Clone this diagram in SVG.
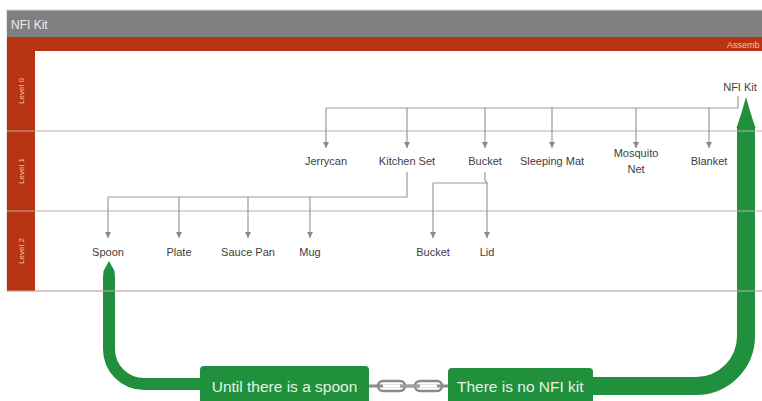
<svg xmlns="http://www.w3.org/2000/svg" width="762" height="401" viewBox="0 0 762 401">
<defs>
<style>
.lbl{font-family:"Liberation Sans",Arial,sans-serif;font-size:11px;fill:#404040;text-anchor:middle}
.lane{font-family:"Liberation Sans",Arial,sans-serif;font-size:8px;fill:#f2c4b4;text-anchor:middle}
.conn{fill:none;stroke:#9a9a9a;stroke-width:1.2}
.laneline{stroke:#c4ac9c;stroke-width:1.2}
.gtxt{font-family:"Liberation Sans",Arial,sans-serif;font-size:15.5px;fill:#e4f2e6}
.link{fill:none;stroke:#8a8a8a;stroke-width:2.5}
</style>
<marker id="ah" viewBox="0 0 6 6" refX="6" refY="3" markerWidth="6" markerHeight="6" markerUnits="userSpaceOnUse" orient="auto">
<path d="M0,0 L6,3 L0,6 Z" fill="#8a8a8a"/>
</marker>
</defs>
<rect width="762" height="401" fill="#ffffff"/>
<g id="frame">
<rect x="7" y="10" width="760" height="281" fill="#ffffff" stroke="#cfcfcf" stroke-width="1"/>
<rect x="7" y="10.5" width="755" height="26.5" fill="#808080"/>
<text x="11" y="29" font-family="'Liberation Sans',Arial,sans-serif" font-size="12" fill="#ececec">NFI Kit</text>
<rect x="7" y="37" width="755" height="14" fill="#b73311"/>
<text x="727" y="48" font-family="'Liberation Sans',Arial,sans-serif" font-size="9" fill="#f2c2b2">Assemb</text>
<rect x="7" y="51" width="28" height="240" fill="#b73311"/>
<text class="lane" transform="translate(23.5,91) rotate(-90)">Level 0</text>
<text class="lane" transform="translate(23.5,171) rotate(-90)">Level 1</text>
<text class="lane" transform="translate(23.5,251) rotate(-90)">Level 2</text>
</g>
<g id="loop" fill="none" stroke="#21903d">
<path d="M109,276 L109,349 A35,35 0 0 0 144,384 L205,384" stroke-width="12"/>
<path d="M746,126 L746,336 A50,50 0 0 1 696,386 L588,386" stroke-width="18"/>
<path d="M109,261 L114.5,271 L115,278 L103,278 L103.5,271 Z" fill="#21903d" stroke="none"/>
<path d="M746,97 Q750,112 755.5,128 L736.5,128 Q742,112 746,97 Z" fill="#21903d" stroke="none"/>
</g>
<g id="lanelines">
<line class="laneline" x1="7" y1="131" x2="762" y2="131"/>
<line class="laneline" x1="7" y1="211" x2="762" y2="211"/>
<line class="laneline" x1="7" y1="291" x2="762" y2="291"/>
</g>
<g id="connectors">
<path class="conn" d="M738,96 L738,108 L326,108"/>
<path class="conn" d="M326,108 L326,148" marker-end="url(#ah)"/>
<path class="conn" d="M407,108 L407,148" marker-end="url(#ah)"/>
<path class="conn" d="M485,108 L485,148" marker-end="url(#ah)"/>
<path class="conn" d="M552,108 L552,148" marker-end="url(#ah)"/>
<path class="conn" d="M636,108 L636,148" marker-end="url(#ah)"/>
<path class="conn" d="M709,108 L709,148" marker-end="url(#ah)"/>
<path class="conn" d="M407,172 L407,197 L108,197"/>
<path class="conn" d="M108,197 L108,238" marker-end="url(#ah)"/>
<path class="conn" d="M179,197 L179,238" marker-end="url(#ah)"/>
<path class="conn" d="M248,197 L248,238" marker-end="url(#ah)"/>
<path class="conn" d="M310,197 L310,238" marker-end="url(#ah)"/>
<path class="conn" d="M485,172 L485,180 L487,183 L433,183"/>
<path class="conn" d="M433,183 L433,238" marker-end="url(#ah)"/>
<path class="conn" d="M487,183 L487,238" marker-end="url(#ah)"/>
</g>
<g id="n-nfikit"><text class="lbl" x="740" y="91">NFI Kit</text></g>
<g id="n-jerrycan"><text class="lbl" x="326" y="165">Jerrycan</text></g>
<g id="n-kitchenset"><text class="lbl" x="407" y="165">Kitchen Set</text></g>
<g id="n-bucket1"><text class="lbl" x="485" y="165">Bucket</text></g>
<g id="n-sleepingmat"><text class="lbl" x="552" y="165">Sleeping Mat</text></g>
<g id="n-mosquitonet"><text class="lbl" x="636" y="157">Mosquito</text><text class="lbl" x="636" y="173">Net</text></g>
<g id="n-blanket"><text class="lbl" x="709" y="165">Blanket</text></g>
<g id="n-spoon"><text class="lbl" x="108" y="256">Spoon</text></g>
<g id="n-plate"><text class="lbl" x="179" y="256">Plate</text></g>
<g id="n-saucepan"><text class="lbl" x="248" y="256">Sauce Pan</text></g>
<g id="n-mug"><text class="lbl" x="310" y="256">Mug</text></g>
<g id="n-bucket2"><text class="lbl" x="433" y="256">Bucket</text></g>
<g id="n-lid"><text class="lbl" x="487" y="256">Lid</text></g>
<g id="chain">
<line x1="369" y1="386" x2="449" y2="386" stroke="#8a8a8a" stroke-width="3"/>
<rect class="link" x="378" y="381" width="27" height="10" rx="5"/>
<rect class="link" x="415" y="381" width="27" height="10" rx="5"/>
<rect x="383" y="384.5" width="17" height="3" fill="#ffffff"/>
<rect x="420" y="384.5" width="17" height="3" fill="#ffffff"/>
<line x1="400" y1="386" x2="420" y2="386" stroke="#a0a0a0" stroke-width="2.5"/>
</g>
<g id="b-until">
<rect x="200" y="366" width="169" height="40" rx="4" fill="#21903d"/>
<text class="gtxt" x="284.5" y="392" text-anchor="middle">Until there is a spoon</text>
</g>
<g id="b-nokit">
<rect x="448" y="368" width="145" height="38" rx="4" fill="#21903d"/>
<text class="gtxt" x="457" y="392">There is no NFI kit</text>
</g>
</svg>
